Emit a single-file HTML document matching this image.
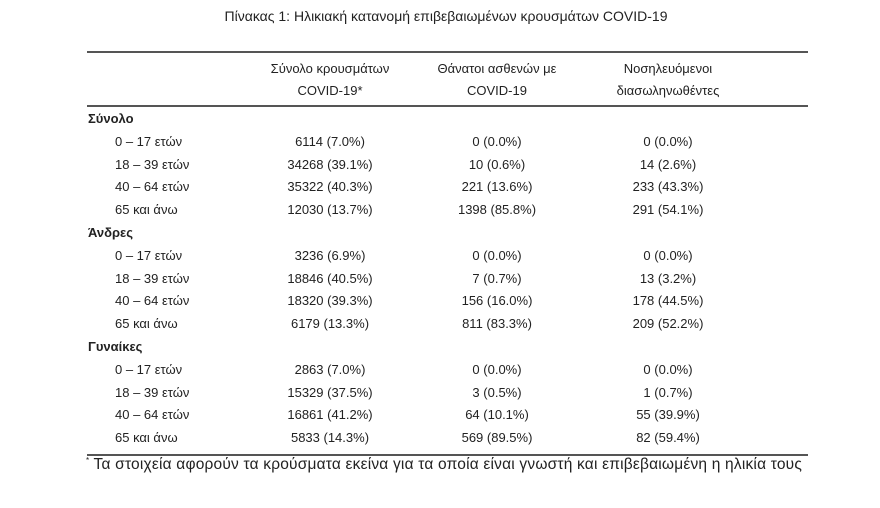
<!DOCTYPE html>
<html><head><meta charset="utf-8"><style>
body{margin:0;width:880px;height:508px;background:#fff;font-family:"Liberation Sans","DejaVu Sans",sans-serif;color:#222;font-size:13px;position:relative;overflow:hidden}
.t{position:absolute;white-space:nowrap}
.c{position:absolute;white-space:nowrap;transform:translateX(-50%)}
.l{position:absolute;left:87px;width:721px;height:2px;background:#555}
</style></head><body>
<div class="c" style="left:446px;top:8px;font-size:14px">Πίνακας 1: Ηλικιακή κατανομή επιβεβαιωμένων κρουσμάτων COVID-19</div>
<div class="l" style="top:51px"></div>
<div class="c" style="left:330px;top:61px">Σύνολο κρουσμάτων</div>
<div class="c" style="left:330px;top:83px">COVID-19*</div>
<div class="c" style="left:497px;top:61px">Θάνατοι ασθενών με</div>
<div class="c" style="left:497px;top:83px">COVID-19</div>
<div class="c" style="left:668px;top:61px">Νοσηλευόμενοι</div>
<div class="c" style="left:668px;top:83px">διασωληνωθέντες</div>
<div class="l" style="top:105px"></div>
<div id="rows"></div>
<div class="l" style="top:454px"></div>
<div class="t" style="left:86px;top:456px;font-size:15.5px;letter-spacing:0.2px"><sup style="font-size:8px">*</sup> Τα στοιχεία αφορούν τα κρούσματα εκείνα για τα οποία είναι γνωστή και επιβεβαιωμένη η ηλικία τους</div>
<script>
var d=[["Σύνολο"],["0 – 17 ετών","6114 (7.0%)","0 (0.0%)","0 (0.0%)"],["18 – 39 ετών","34268 (39.1%)","10 (0.6%)","14 (2.6%)"],["40 – 64 ετών","35322 (40.3%)","221 (13.6%)","233 (43.3%)"],["65 και άνω","12030 (13.7%)","1398 (85.8%)","291 (54.1%)"],
["Άνδρες"],["0 – 17 ετών","3236 (6.9%)","0 (0.0%)","0 (0.0%)"],["18 – 39 ετών","18846 (40.5%)","7 (0.7%)","13 (3.2%)"],["40 – 64 ετών","18320 (39.3%)","156 (16.0%)","178 (44.5%)"],["65 και άνω","6179 (13.3%)","811 (83.3%)","209 (52.2%)"],
["Γυναίκες"],["0 – 17 ετών","2863 (7.0%)","0 (0.0%)","0 (0.0%)"],["18 – 39 ετών","15329 (37.5%)","3 (0.5%)","1 (0.7%)"],["40 – 64 ετών","16861 (41.2%)","64 (10.1%)","55 (39.9%)"],["65 και άνω","5833 (14.3%)","569 (89.5%)","82 (59.4%)"]];
var h="";d.forEach(function(r,i){var y=111+i*22.8;
if(r.length==1)h+='<div class="t" style="left:88px;top:'+y+'px;font-weight:bold">'+r[0]+'</div>';
else{h+='<div class="t" style="left:115px;top:'+y+'px">'+r[0]+'</div>';
[[330,1],[497,2],[668,3]].forEach(function(c){h+='<div class="c" style="left:'+c[0]+'px;top:'+y+'px">'+r[c[1]]+'</div>'});}});
document.getElementById("rows").innerHTML=h;
</script>
</body></html>
